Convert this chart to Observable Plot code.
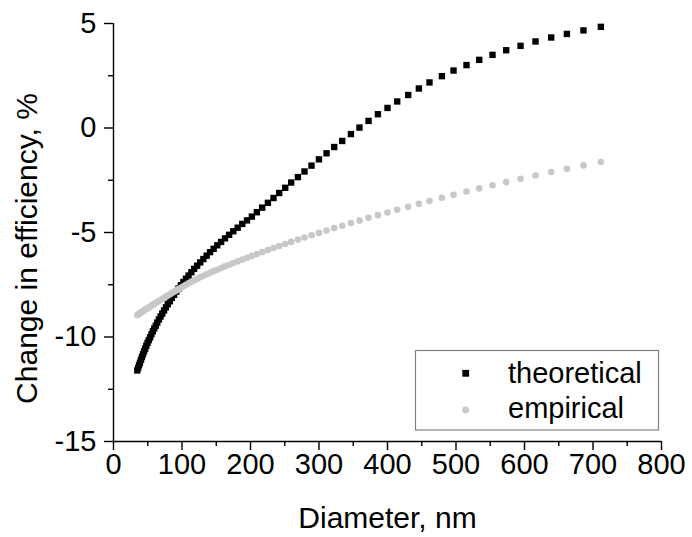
<!DOCTYPE html>
<html>
<head>
<meta charset="utf-8">
<script src="https://cdn.jsdelivr.net/npm/d3@7"></script>
<script src="https://cdn.jsdelivr.net/npm/@observablehq/plot@0.6"></script>
<style>
  html, body { margin: 0; padding: 0; background: #fff; }
  #wrap { position: relative; width: 692px; height: 537px; font-family: Arial, "Liberation Sans", sans-serif; }
  #legend { position: absolute; left: 0; top: 0; }
</style>
</head>
<body>
<div id="wrap"></div>
<script>
// Diameter, nm (shared by both series)
const diameter = [
  34.7, 36.0, 37.3, 38.6, 40.1, 41.5, 43.0, 44.6, 46.3, 47.9,
  49.7, 51.5, 53.4, 55.4, 57.4, 59.5, 61.7, 63.9, 66.3, 68.7,
  71.2, 73.8, 76.5, 79.3, 82.2, 85.2, 88.4, 91.6, 94.9, 98.4,
  102.0, 105.8, 109.6, 113.7, 117.8, 122.1, 126.6, 131.2, 136.0, 141.0,
  146.2, 151.5, 157.1, 162.8, 168.8, 174.9, 181.3, 188.0, 194.9, 202.0,
  209.3, 217.1, 225.4, 233.6, 241.9, 250.7, 259.4, 269.2, 278.8, 289.1,
  299.9, 311.0, 322.2, 333.9, 346.6, 359.1, 372.3, 386.0, 400.0, 414.2,
  430.2, 445.8, 461.3, 479.4, 496.4, 515.3, 533.9, 553.3, 573.3, 594.2,
  616.1, 639.0, 661.9, 686.1, 711.5
];
// Change in efficiency, % — theoretical
const theoretical = [
  -11.60, -11.48, -11.35, -11.23, -11.09, -10.96, -10.83, -10.69, -10.56, -10.42,
  -10.28, -10.15, -10.02, -9.87, -9.73, -9.59, -9.46, -9.31, -9.16, -9.02,
  -8.88, -8.73, -8.58, -8.43, -8.29, -8.13, -7.98, -7.83, -7.68, -7.52,
  -7.37, -7.21, -7.06, -6.90, -6.74, -6.59, -6.43, -6.27, -6.11, -5.94,
  -5.78, -5.61, -5.45, -5.28, -5.11, -4.94, -4.77, -4.59, -4.42, -4.24,
  -4.03, -3.81, -3.58, -3.35, -3.11, -2.86, -2.61, -2.35, -2.08, -1.80,
  -1.50, -1.21, -0.91, -0.62, -0.29, 0.02, 0.34, 0.66, 0.96, 1.27,
  1.58, 1.89, 2.18, 2.48, 2.75, 3.01, 3.26, 3.50, 3.72, 3.93,
  4.14, 4.33, 4.50, 4.67, 4.84
];
// Change in efficiency, % — empirical
const empirical = [
  -8.95, -8.92, -8.89, -8.86, -8.83, -8.80, -8.77, -8.73, -8.70, -8.66,
  -8.62, -8.59, -8.55, -8.50, -8.46, -8.42, -8.37, -8.33, -8.28, -8.23,
  -8.18, -8.13, -8.07, -8.02, -7.96, -7.90, -7.83, -7.77, -7.70, -7.64,
  -7.57, -7.50, -7.43, -7.36, -7.29, -7.22, -7.14, -7.07, -7.00, -6.92,
  -6.85, -6.78, -6.70, -6.62, -6.54, -6.46, -6.38, -6.30, -6.21, -6.12,
  -6.03, -5.94, -5.84, -5.74, -5.65, -5.55, -5.45, -5.34, -5.24, -5.13,
  -5.02, -4.91, -4.79, -4.68, -4.55, -4.43, -4.30, -4.17, -4.04, -3.91,
  -3.77, -3.63, -3.49, -3.34, -3.20, -3.04, -2.89, -2.74, -2.59, -2.43,
  -2.27, -2.11, -1.95, -1.79, -1.63
];
const seriesNames = ["theoretical", "empirical"];
const xTicks = [0, 100, 200, 300, 400, 500, 600, 700, 800];
const xMinorTicks = [50, 150, 250, 350, 450, 550, 650, 750];
const yTicks = [-15, -10, -5, 0, 5];
const yMinorTicks = [-12.5, -7.5, -2.5, 2.5];
const xTitle = "Diameter, nm";
const yTitle = "Change in efficiency, %";

const theoData = diameter.map((d, i) => ({d, v: theoretical[i]}));
const empData = diameter.map((d, i) => ({d, v: empirical[i]}));

const FONT = 'Arial, "Liberation Sans", sans-serif';
const GRAY = "#c8c8c8";

const chart = Plot.plot({
  width: 692,
  height: 537,
  marginLeft: 113,
  marginRight: 31,
  marginTop: 23,
  marginBottom: 96,
  style: {fontFamily: FONT, background: "#fff", color: "#000", overflow: "visible"},
  x: {domain: [0, 800]},
  y: {domain: [-15, 5]},
  marks: [
    Plot.axisX(xTicks, {tickSize: 9, tickPadding: 3, fontSize: 29, tickFormat: d => String(d), label: null, strokeWidth: 1.4}),
    Plot.axisX(xMinorTicks, {tickSize: 5, tickFormat: () => "", label: null, strokeWidth: 1.4}),
    Plot.axisY(yTicks, {tickSize: 9, tickPadding: 8, fontSize: 29, tickFormat: d => String(d), label: null, strokeWidth: 1.4}),
    Plot.axisY(yMinorTicks, {tickSize: 5, tickFormat: () => "", label: null, strokeWidth: 1.4}),
    Plot.ruleX([0], {stroke: "#000", strokeWidth: 1.4}),
    Plot.ruleY([-15], {stroke: "#000", strokeWidth: 1.4}),
    Plot.dot(theoData, {x: "d", y: "v", symbol: "square", r: 3.6, fill: "#000", stroke: "none"}),
    Plot.dot(empData, {x: "d", y: "v", symbol: "circle", r: 3.3, fill: GRAY, stroke: "none"}),
    Plot.text([xTitle], {text: d => d, frameAnchor: "bottom", textAnchor: "middle", lineAnchor: "top", dy: 65, fontSize: 30}),
    Plot.text([yTitle], {text: d => d, frameAnchor: "left", textAnchor: "middle", lineAnchor: "middle", rotate: -90, dx: -86, dy: 16, fontSize: 30})
  ]
});

const wrap = document.getElementById("wrap");
wrap.appendChild(chart);

// Legend overlay inside the plot area
const leg = d3.select(wrap).append("svg")
  .attr("id", "legend")
  .attr("width", 692).attr("height", 537)
  .style("pointer-events", "none");
leg.append("rect").attr("x", 415.5).attr("y", 350.5).attr("width", 243).attr("height", 79.5)
  .attr("fill", "#fff").attr("stroke", "#808080").attr("stroke-width", 1.2);
leg.append("rect").attr("x", 462.3).attr("y", 369.9).attr("width", 6.8).attr("height", 6.8).attr("fill", "#000");
leg.append("circle").attr("cx", 465.7).attr("cy", 410).attr("r", 3.4).attr("fill", GRAY);
leg.selectAll("text.lab").data(seriesNames).join("text")
  .attr("class", "lab")
  .attr("x", 508)
  .attr("y", (d, i) => i === 0 ? 383 : 418)
  .attr("font-family", FONT)
  .attr("font-size", 29)
  .attr("fill", "#000")
  .text(d => d);
</script>
</body>
</html>
